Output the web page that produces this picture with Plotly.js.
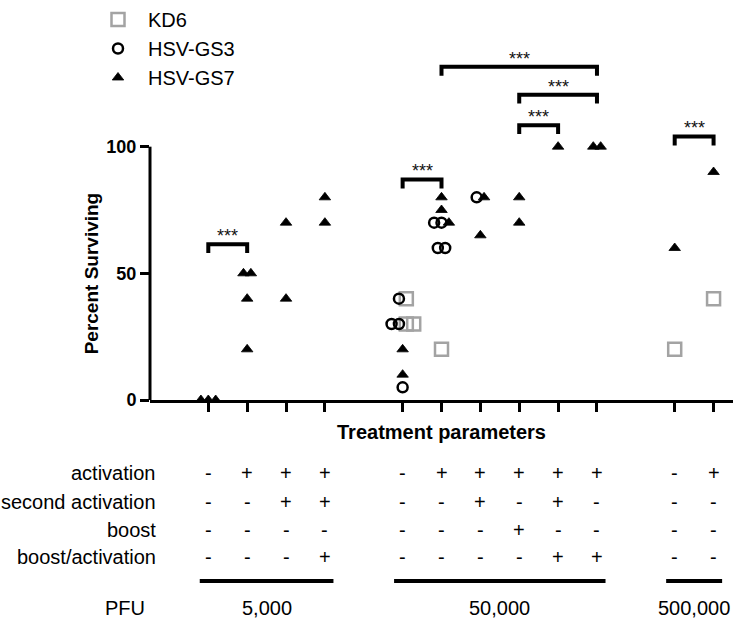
<!DOCTYPE html>
<html><head><meta charset="utf-8">
<script src="https://cdn.plot.ly/plotly-3.0.1.min.js"></script>
<style>html,body{margin:0;padding:0;background:#fff}#chart{width:733px;height:620px}</style>
</head><body><div id="chart"></div>
<script>
// ---------- data ----------
const conditionPos = [0, 1, 2, 3, 5, 6, 7, 8, 9, 10, 12, 13];
const rowLabels = ['activation', 'second activation', 'boost', 'boost/activation'];
const activation       = ['-', '+', '+', '+', '-', '+', '+', '+', '+', '+', '-', '+'];
const secondActivation = ['-', '-', '+', '+', '-', '-', '+', '-', '+', '-', '-', '-'];
const boost            = ['-', '-', '-', '-', '-', '-', '-', '+', '-', '-', '-', '-'];
const boostActivation  = ['-', '-', '-', '+', '-', '-', '-', '-', '+', '+', '-', '-'];
const pfuLabels = ['5,000', '50,000', '500,000'];
const pfuFirst = [0, 5, 12];
const pfuLast = [3, 10, 13];

const kd6Pos = [5, 5, 5, 6, 12, 13];
const kd6Val = [40, 30, 30, 20, 20, 40];
const gs3Pos = [5, 5, 5, 5, 6, 6, 6, 6, 7];
const gs3Val = [40, 30, 30, 5, 70, 70, 60, 60, 80];
const gs7Pos = [0, 0, 0, 1, 1, 1, 1, 2, 2, 3, 3, 5, 5, 6, 6, 6, 7, 7, 8, 8, 9, 10, 10, 12, 13];
const gs7Val = [0, 0, 0, 50, 50, 40, 20, 70, 40, 80, 70, 20, 10, 80, 75, 70, 80, 65, 80, 70, 100, 100, 100, 60, 90];

const sigFrom = [0, 5, 12, 6, 8, 8];
const sigTo   = [1, 6, 13, 10, 10, 9];
const sigY    = [61.5, 87, 104, 131.5, 120.5, 108.5];
const sigText = '***';

const yTickVals = [0, 50, 100];

// ---------- layout helpers ----------
const W = 733, H = 620, ML = 150, MR = 0, MT = 20, MB = 220;
const plotH = H - MT - MB, plotW = W - ML - MR;
const py = p => (MT + plotH - p) / plotH;   // pixel row -> paper y
const px = p => (p - ML) / plotW;           // pixel col -> paper x

// spread identical values within a condition (scatter-dot layout)
function spreadX(list) {
  const buckets = {};
  const xs = list.map(s => s.pos.slice());
  list.forEach((s, si) => s.pos.forEach((p, i) => {
    const k = p + '|' + s.val[i];
    (buckets[k] = buckets[k] || []).push([si, i]);
  }));
  Object.values(buckets).forEach(b => {
    const n = b.length;
    b.forEach(([si, i], j) => { xs[si][i] = list[si].pos[i] + (j - (n - 1) / 2) * 0.19; });
  });
  return xs;
}
const [gs3X, kd6X, gs7X] = spreadX([
  {pos: gs3Pos, val: gs3Val}, {pos: kd6Pos, val: kd6Val}, {pos: gs7Pos, val: gs7Val}
]);

const font = 'Liberation Sans, Arial, Helvetica, sans-serif';

const traces = [
  {type: 'scatter', mode: 'markers', name: 'KD6', x: kd6X, y: kd6Val, legendgroup: 'a', cliponaxis: false,
   marker: {symbol: 'square-open', size: 13, color: '#a3a3a3', line: {width: 2.5, color: '#a3a3a3'}}},
  {type: 'scatter', mode: 'markers', name: 'HSV-GS3', x: gs3X, y: gs3Val, legendgroup: 'b', cliponaxis: false,
   marker: {symbol: 'circle-open', size: 10, color: '#000', line: {width: 2.5, color: '#000'}}},
  {type: 'scatter', mode: 'markers', name: 'HSV-GS7', x: gs7X, y: gs7Val, legendgroup: 'c', cliponaxis: false,
   marker: {symbol: 'triangle-up', size: 10, color: '#000', line: {width: 0.8, color: '#000'}}}
];

const shapes = [];
const annotations = [];

// y axis line 0..100
shapes.push({type: 'line', xref: 'paper', yref: 'y', x0: 0, x1: 0, y0: 0, y1: 100,
  line: {color: '#000', width: 3}});

// significance brackets
sigFrom.forEach((f, i) => {
  const t = sigTo[i], y = sigY[i], d = 3.5;
  shapes.push({type: 'path', xref: 'x', yref: 'y',
    path: `M ${f},${y - d} L ${f},${y} L ${t},${y} L ${t},${y - d}`,
    line: {color: '#000', width: 4}});
  annotations.push({xref: 'x', yref: 'y', x: (f + t) / 2, y: y + 3.2, text: sigText, showarrow: false,
    yanchor: 'middle', font: {family: font, size: 18, color: '#111'}});
});

// y axis title
annotations.push({xref: 'paper', yref: 'y', x: px(91), y: 50, xanchor: 'center', yanchor: 'middle',
  text: 'Percent Surviving', textangle: -90,
  showarrow: false, font: {family: font, size: 19, color: '#000', weight: 'bold'}});

// table
const rows = [activation, secondActivation, boost, boostActivation];
const rowPix = [473, 501.5, 530, 557];
rows.forEach((row, r) => {
  annotations.push({xref: 'paper', yref: 'paper', x: px(158), y: py(rowPix[r]), xanchor: 'right', yanchor: 'middle',
    text: rowLabels[r], showarrow: false, font: {family: font, size: 20, color: '#000'}});
  row.forEach((v, i) => {
    annotations.push({xref: 'x', yref: 'paper', x: conditionPos[i], y: py(rowPix[r]), yanchor: 'middle',
      text: v, showarrow: false, font: {family: font, size: 20, color: '#000'}});
  });
});
// PFU group lines and labels
pfuLabels.forEach((lab, g) => {
  shapes.push({type: 'line', xref: 'x', yref: 'paper', x0: pfuFirst[g] - 0.22, x1: pfuLast[g] + 0.22,
    y0: py(581), y1: py(581), line: {color: '#000', width: 4}});
  annotations.push({xref: 'x', yref: 'paper', x: (pfuFirst[g] + pfuLast[g]) / 2, y: py(608), yanchor: 'middle',
    text: lab, showarrow: false, font: {family: font, size: 20, color: '#000'}});
});
annotations.push({xref: 'paper', yref: 'paper', x: px(103), y: py(608), yanchor: 'middle',
  text: 'PFU', showarrow: false, font: {family: font, size: 20, color: '#000'}});

const layout = {
  width: W, height: H,
  margin: {l: ML, r: MR, t: MT, b: MB, pad: 0},
  paper_bgcolor: '#fff', plot_bgcolor: '#fff',
  font: {family: font, color: '#000'},
  showlegend: true,
  legend: {x: px(88), xanchor: 'left', y: py(0), yanchor: 'top',
    font: {family: font, size: 20, color: '#000'},
    tracegroupgap: 13, itemwidth: 50, bgcolor: 'rgba(0,0,0,0)', traceorder: 'normal'},
  xaxis: {range: [-1.5, 13.5], tickmode: 'array', tickvals: conditionPos, showticklabels: false,
    ticks: 'outside', ticklen: 9, tickwidth: 3, tickcolor: '#000',
    showline: true, linewidth: 3, linecolor: '#000', showgrid: false, zeroline: false,
    title: {text: 'Treatment parameters', standoff: 14, font: {family: font, size: 20, color: '#000', weight: 'bold'}}},
  yaxis: {range: [0, 150], tickmode: 'array', tickvals: yTickVals, ticktext: yTickVals.map(String),
    ticks: 'outside', ticklen: 9, tickwidth: 3, tickcolor: '#000',
    tickfont: {family: font, size: 18, color: '#000', weight: 'bold'},
    showline: false, showgrid: false, zeroline: false},
  shapes: shapes,
  annotations: annotations
};

Plotly.newPlot('chart', traces, layout, {displayModeBar: false, staticPlot: true});
</script>
</body></html>
